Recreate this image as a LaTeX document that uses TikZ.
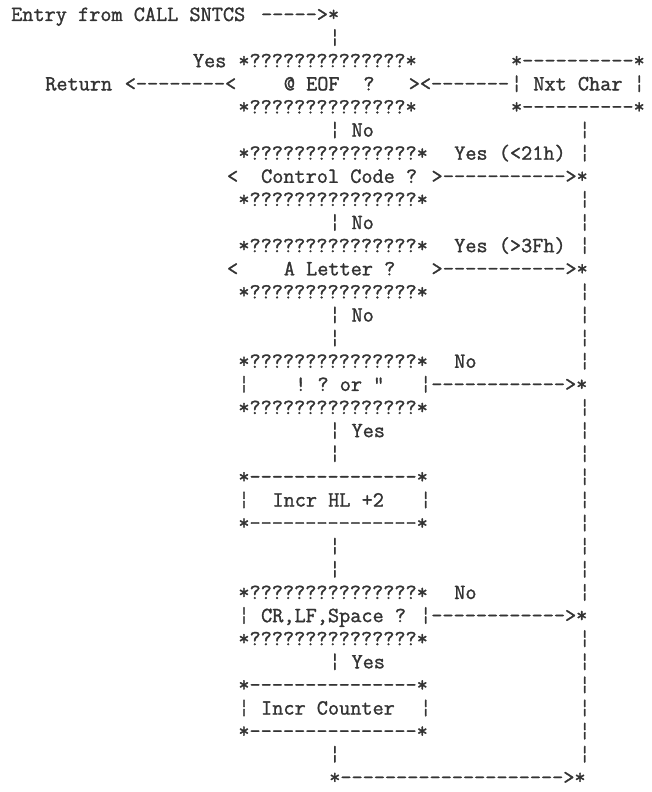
\documentclass[tikz,border=0pt]{standalone}
\usepackage{fontspec}
\setmonofont{Latin Modern Mono}[FakeBold=1.3]
\tikzset{asc/.style={anchor=base west, inner sep=0pt, outer sep=0pt,
  font=\ttfamily\fontsize{21.64}{21.64}\selectfont, text=black!80}}
% #1 name, #2 column, #3 row, #4 text
\newcommand\R[4]{\node[asc] (#1) at ({11.2+11.36*#2},{-(21+23.12*(#3-1))}) {#4};}
\begin{document}
\begin{tikzpicture}[x=1pt,y=1pt]
\useasboundingbox (0,0) rectangle (652,-792);
% row 1-5
\R{entry}{0}{1}{Entry from CALL SNTCS}
\R{a1}{22}{1}{----->*}
\R{v2}{28}{2}{¦}
\R{yes1}{16}{3}{Yes}
\R{eofT}{20}{3}{*??????????????*}
\R{ncT}{44}{3}{*----------*}
\R{ret}{3}{4}{Return}
\R{a4}{10}{4}{<--------<}
\R{eof}{24}{4}{@ EOF}
\R{eofq}{31}{4}{?}
\R{a4b}{35}{4}{><-------}
\R{nc}{44}{4}{¦ Nxt Char ¦}
\R{eofB}{20}{5}{*??????????????*}
\R{ncB}{44}{5}{*----------*}
% row 6-9
\R{v6}{28}{6}{¦ No}
\R{ccT}{20}{7}{*???????????????*}
\R{y7}{39}{7}{Yes (<21h)}
\R{ccl}{19}{8}{<}
\R{cc}{22}{8}{Control Code ?}
\R{ccr}{37}{8}{>}
\R{a8}{38}{8}{----------->*}
\R{ccB}{20}{9}{*???????????????*}
% row 10-13
\R{v10}{28}{10}{¦ No}
\R{alT}{20}{11}{*???????????????*}
\R{y11}{39}{11}{Yes (>3Fh)}
\R{all}{19}{12}{<}
\R{al}{24}{12}{A Letter ?}
\R{alr}{37}{12}{>}
\R{a12}{38}{12}{----------->*}
\R{alB}{20}{13}{*???????????????*}
% row 14-18
\R{v14}{28}{14}{¦ No}
\R{v15}{28}{15}{¦}
\R{exT}{20}{16}{*???????????????*}
\R{n16}{39}{16}{No}
\R{exL}{20}{17}{¦}
\R{ex}{25}{17}{! ? or "}
\R{exR}{36}{17}{¦------------>*}
\R{exB}{20}{18}{*???????????????*}
% row 19-23
\R{v19}{28}{19}{¦ Yes}
\R{v20}{28}{20}{¦}
\R{hlT}{20}{21}{*---------------*}
\R{hlL}{20}{22}{¦}
\R{hl}{23}{22}{Incr HL +2}
\R{hlR}{36}{22}{¦}
\R{hlB}{20}{23}{*---------------*}
% row 24-28
\R{v24}{28}{24}{¦}
\R{v25}{28}{25}{¦}
\R{crT}{20}{26}{*???????????????*}
\R{n26}{39}{26}{No}
\R{crL}{20}{27}{¦}
\R{cr}{22}{27}{CR,LF,Space ?}
\R{crR}{36}{27}{¦------------>*}
\R{crB}{20}{28}{*???????????????*}
% row 29-34
\R{v29}{28}{29}{¦ Yes}
\R{icT}{20}{30}{*---------------*}
\R{icL}{20}{31}{¦}
\R{ic}{22}{31}{Incr Counter}
\R{icR}{36}{31}{¦}
\R{icB}{20}{32}{*---------------*}
\R{v33}{28}{33}{¦}
\R{bot}{28}{34}{*-------------------->*}
% right-hand return line
\foreach \r in {6,7,9,10,11,13,14,15,16,18,19,20,21,22,23,24,25,26,28,29,30,31,32,33}
  {\node[asc] (rl\r) at ({11.2+11.36*50},{-(21+23.12*(\r-1))}) {¦};}
\end{tikzpicture}
\end{document}
